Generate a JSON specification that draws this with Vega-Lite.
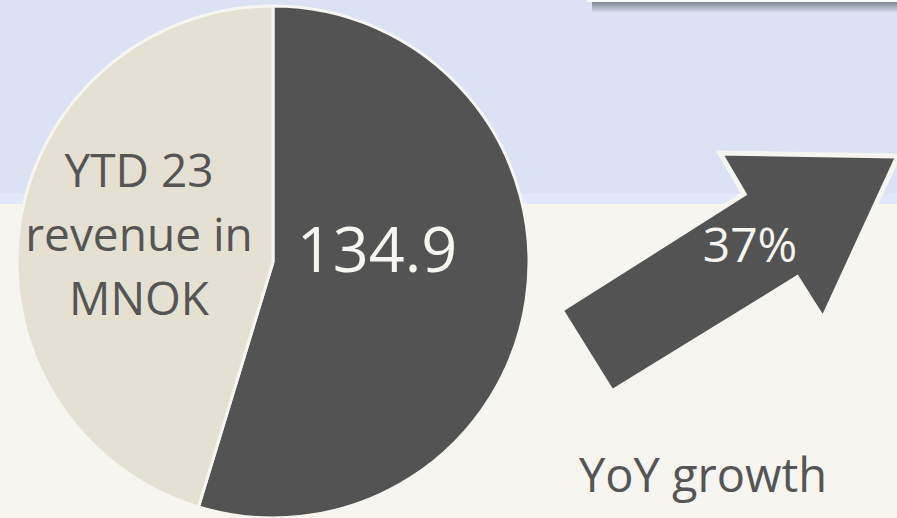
{
  "$schema": "https://vega.github.io/schema/vega-lite/v6.json",
  "width": 897,
  "height": 518,
  "padding": 0,
  "autosize": {"type": "none"},
  "background": "#f6f5f0",
  "config": {"view": {"stroke": null}, "axis": {"disable": true}, "font": "Open Sans"},
  "datasets": {
    "pie": [
      {"part": "YTD 23 revenue", "value": 54.7},
      {"part": "Rest", "value": 45.3}
    ],
    "kpi": [
      {"metric": "YTD 23 revenue in MNOK", "value": 134.9},
      {"metric": "YoY growth", "value": 0.37}
    ],
    "blank": [{}]
  },
  "layer": [
    {
      "data": {"name": "blank"},
      "mark": {"type": "rect", "color": "#dae2f4"},
      "encoding": {
        "x": {"datum": 0, "type": "quantitative", "scale": {"domain": [0, 897]}},
        "x2": {"datum": 897},
        "y": {"datum": 0, "type": "quantitative", "scale": {"domain": [0, 518], "reverse": true}},
        "y2": {"datum": 193}
      }
    },
    {
      "data": {"name": "blank"},
      "mark": {"type": "rect", "color": "#e0e8f9"},
      "encoding": {
        "x": {"datum": 0, "type": "quantitative", "scale": {"domain": [0, 897]}},
        "x2": {"datum": 897},
        "y": {"datum": 193, "type": "quantitative", "scale": {"domain": [0, 518], "reverse": true}},
        "y2": {"datum": 204}
      }
    },
    {
      "data": {"name": "blank"},
      "mark": {"type": "rect", "fill": {"gradient": "linear", "x1": 0, "y1": 0, "x2": 0, "y2": 1, "stops": [{"offset": 0, "color": "#80858f"}, {"offset": 1, "color": "#dae2f4"}]}},
      "encoding": {
        "x": {"datum": 592, "type": "quantitative", "scale": {"domain": [0, 897]}},
        "x2": {"datum": 897},
        "y": {"datum": 2, "type": "quantitative", "scale": {"domain": [0, 518], "reverse": true}},
        "y2": {"datum": 13}
      }
    },
    {
      "data": {"name": "blank"},
      "mark": {"type": "rect", "color": "#fbfbfb"},
      "encoding": {
        "x": {"datum": 587, "type": "quantitative", "scale": {"domain": [0, 897]}},
        "x2": {"datum": 897},
        "y": {"datum": 0, "type": "quantitative", "scale": {"domain": [0, 518], "reverse": true}},
        "y2": {"datum": 2}
      }
    },
    {
      "data": {"name": "pie"},
      "mark": {"type": "arc", "outerRadius": 256, "stroke": "#f6f5f0", "strokeWidth": 3},
      "encoding": {
        "x": {"datum": 273, "type": "quantitative", "scale": {"domain": [0, 897]}},
        "y": {"datum": 262, "type": "quantitative", "scale": {"domain": [0, 518], "reverse": true}},
        "theta": {"field": "value", "type": "quantitative", "stack": true},
        "order": {"field": "value", "sort": "descending"},
        "color": {"field": "part", "type": "nominal", "scale": {"domain": ["YTD 23 revenue", "Rest"], "range": ["#535353", "#e4e1d3"]}, "legend": null}
      }
    },
    {
      "data": {"name": "blank"},
      "mark": {"type": "text", "text": ["YTD 23", "revenue in", "MNOK"], "fontSize": 46, "lineHeight": 64, "align": "center", "baseline": "alphabetic", "color": "#555555"},
      "encoding": {
        "x": {"datum": 139, "type": "quantitative", "scale": {"domain": [0, 897]}},
        "y": {"datum": 187, "type": "quantitative", "scale": {"domain": [0, 518], "reverse": true}}
      }
    },
    {
      "data": {"name": "kpi"},
      "transform": [{"filter": "datum.metric === 'YTD 23 revenue in MNOK'"}],
      "mark": {"type": "text", "fontSize": 63, "align": "center", "baseline": "alphabetic", "color": "#f6f5f0"},
      "encoding": {
        "x": {"datum": 377, "type": "quantitative", "scale": {"domain": [0, 897]}},
        "y": {"datum": 272, "type": "quantitative", "scale": {"domain": [0, 518], "reverse": true}},
        "text": {"field": "value", "type": "quantitative", "format": ".1f"}
      }
    },
    {
      "data": {"name": "kpi"},
      "transform": [{"filter": "datum.metric === 'YoY growth'"}],
      "mark": {"type": "point", "shape": "M-169,75 L14,-41 L-10,-82 L168,-79 L93,84 L67,43 L-118,157 Z", "size": 4, "filled": true, "fill": "#535353", "stroke": "#f6f5f0", "strokeWidth": 5, "strokeJoin": "miter", "opacity": 1},
      "encoding": {
        "x": {"datum": 730, "type": "quantitative", "scale": {"domain": [0, 897]}},
        "y": {"datum": 235, "type": "quantitative", "scale": {"domain": [0, 518], "reverse": true}}
      }
    },
    {
      "data": {"name": "kpi"},
      "transform": [{"filter": "datum.metric === 'YoY growth'"}],
      "mark": {"type": "text", "fontSize": 48, "align": "center", "baseline": "alphabetic", "color": "#f6f5f0"},
      "encoding": {
        "x": {"datum": 750, "type": "quantitative", "scale": {"domain": [0, 897]}},
        "y": {"datum": 262, "type": "quantitative", "scale": {"domain": [0, 518], "reverse": true}},
        "text": {"field": "value", "type": "quantitative", "format": ".0%"}
      }
    },
    {
      "data": {"name": "kpi"},
      "transform": [{"filter": "datum.metric === 'YoY growth'"}],
      "mark": {"type": "text", "fontSize": 47, "align": "center", "baseline": "alphabetic", "color": "#555555"},
      "encoding": {
        "x": {"datum": 703, "type": "quantitative", "scale": {"domain": [0, 897]}},
        "y": {"datum": 492, "type": "quantitative", "scale": {"domain": [0, 518], "reverse": true}},
        "text": {"field": "metric", "type": "nominal"}
      }
    }
  ]
}
